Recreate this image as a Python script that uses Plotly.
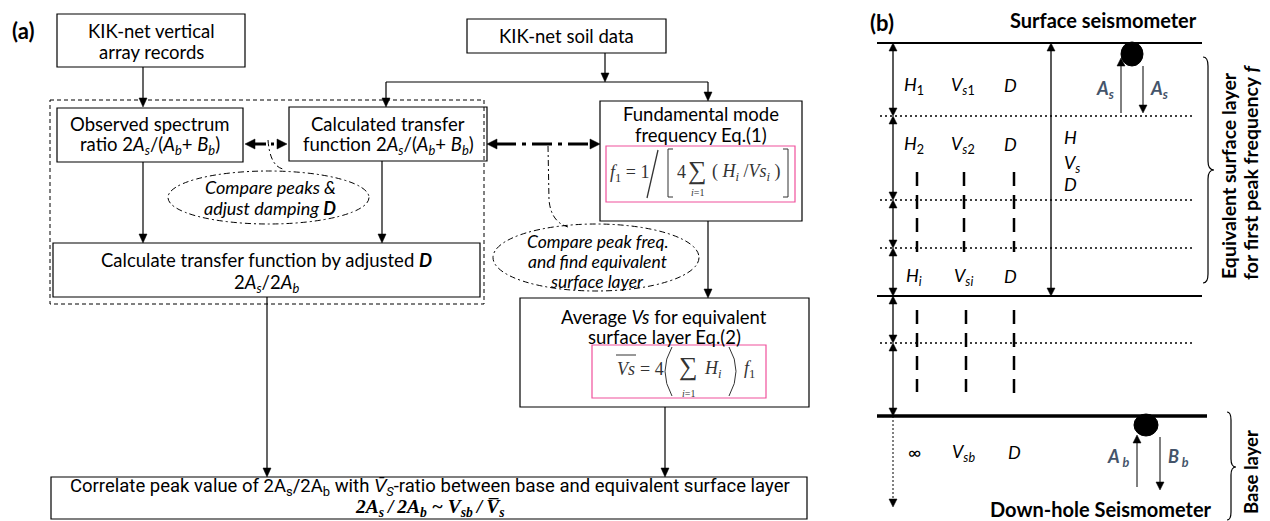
import plotly.graph_objects as go

# ---------------- text content ----------------
panel_tags = ["(a)", "(b)"]

records_lines = ["KIK-net vertical", "array records"]
soil_lines = ["KIK-net soil data"]
observed_lines = ["Observed spectrum",
                  "ratio 2<i>A</i><sub><i>s</i></sub>/(<i>A</i><sub><i>b</i></sub>+ <i>B</i><sub><i>b</i></sub>)"]
calculated_lines = ["Calculated transfer",
                    "function 2<i>A</i><sub><i>s</i></sub>/(<i>A</i><sub><i>b</i></sub>+ <i>B</i><sub><i>b</i></sub>)"]
fundamental_lines = ["Fundamental mode", "frequency Eq.(1)"]
damping_lines = ["<i>Compare peaks &</i>", "<i>adjust damping </i><b><i>D</i></b>"]
adjusted_lines = ["Calculate transfer function by adjusted <b><i>D</i></b>",
                  "2<i>A</i><sub><i>s</i></sub>/2<i>A</i><sub><i>b</i></sub>"]
peakfreq_lines = ["<i>Compare peak freq.</i>", "<i>and find equivalent</i>", "<i>surface layer</i>"]
average_lines = ["Average <i>Vs</i> for equivalent", "surface layer Eq.(2)"]
correlate_lines = ["Correlate peak value of 2A<sub>s</sub>/2A<sub>b</sub> with <i>V\u0304</i><sub><i>S</i></sub>-ratio between base and equivalent surface layer",
                   "<b><i>2A</i></b><sub><b><i>s</i></b></sub><b><i>\u2009/\u20092A</i></b><sub><b><i>b</i></b></sub><b><i> ~ V</i></b><sub><b><i>sb</i></b></sub><b><i>\u2009/\u2009V\u0305</i></b><sub><b><i>s</i></b></sub>"]

# layer table of panel (b)
layer_H = ["<i>H</i><sub>1</sub>", "<i>H</i><sub>2</sub>", "<i>H</i><sub><i>i</i></sub>", "\u221e"]
layer_Vs = ["<i>V</i><sub><i>s</i>1</sub>", "<i>V</i><sub><i>s</i>2</sub>",
            "<i>V</i><sub><i>si</i></sub>", "<i>V</i><sub><i>sb</i></sub>"]
layer_D = ["<i>D</i>", "<i>D</i>", "<i>D</i>", "<i>D</i>"]
equiv_labels = ["<i>H</i>", "<i>V</i><sub><i>s</i></sub>", "<i>D</i>"]
wave_labels = ["<b><i>A</i></b><sub><b><i>s</i></b></sub>", "<b><i>A</i></b><sub><b><i>s</i></b></sub>",
               "<b><i>A</i></b><sub><b><i> b</i></b></sub>", "<b><i>B</i></b><sub><b><i> b</i></b></sub>"]
station_labels = ["Surface seismometer", "Down-hole Seismometer"]
brace_labels = [["Equivalent surface layer", "for first peak frequency <i>f</i>"], ["Base layer"]]

# ---------------- styles ----------------
SANS = "Lato, 'Open Sans', sans-serif"
NARROW = "'Liberation Sans Narrow', 'Roboto', sans-serif"
SERIF = "'Liberation Serif', 'DejaVu Serif', serif"
INK = "#000000"
EQ_INK = "#333333"
PINK = "#f0509c"
SLATE = "#44546a"
BOX_FS = 18.5
NOTE_FS = 17.5

W, H = 1270, 521
shapes = []
annos = []


def text(x, y, s, size=17, family=SANS, color=INK, xanchor="center", angle=0):
    annos.append(dict(x=x, y=y, xref="x", yref="y", text=s, showarrow=False,
                      xanchor=xanchor, yanchor="middle", textangle=angle,
                      font=dict(size=size, family=family, color=color)))


def lines_at(x, ys, lines, **kw):
    for y, s in zip(ys, lines):
        text(x, y, s, **kw)


def rect(x0, y0, x1, y1, color=INK, width=1.2, dash=None):
    ln = dict(color=color, width=width)
    if dash:
        ln["dash"] = dash
    shapes.append(dict(type="rect", xref="x", yref="y", x0=x0, y0=y0, x1=x1, y1=y1,
                       line=ln, fillcolor="rgba(0,0,0,0)"))


def seg(x0, y0, x1, y1, color=INK, width=1.2, dash=None):
    ln = dict(color=color, width=width)
    if dash:
        ln["dash"] = dash
    shapes.append(dict(type="line", xref="x", yref="y", x0=x0, y0=y0, x1=x1, y1=y1, line=ln))


def path(d, color=INK, width=1.2, dash=None, fill=None):
    ln = dict(color=color, width=width)
    if dash:
        ln["dash"] = dash
    sh = dict(type="path", xref="x", yref="y", path=d, line=ln)
    if fill:
        sh["fillcolor"] = fill
    shapes.append(sh)


def head(x, y, d, L=9, w=4, color=INK):
    if d == "down":
        pts = [(x, y), (x - w, y - L), (x + w, y - L)]
    elif d == "up":
        pts = [(x, y), (x - w, y + L), (x + w, y + L)]
    elif d == "right":
        pts = [(x, y), (x - L, y - w), (x - L, y + w)]
    else:
        pts = [(x, y), (x + L, y - w), (x + L, y + w)]
    d_str = "M " + " L ".join(f"{px},{py}" for px, py in pts) + " Z"
    shapes.append(dict(type="path", xref="x", yref="y", path=d_str,
                       fillcolor=color, line=dict(color=color, width=0.5)))


def ellipse(x0, y0, x1, y1, dash="6px,3px,2px,3px"):
    shapes.append(dict(type="circle", xref="x", yref="y", x0=x0, y0=y0, x1=x1, y1=y1,
                       line=dict(color=INK, width=1, dash=dash), fillcolor="rgba(0,0,0,0)"))


# ================= panel (a): workflow =================
text(23, 30, "<b>" + panel_tags[0] + "</b>", size=22, family=SANS)

# boxes
rect(57, 14, 245, 67)
lines_at(151, [31, 52], records_lines, size=BOX_FS)
rect(467, 19, 666, 53)
lines_at(566, [36], soil_lines, size=BOX_FS)

rect(50, 100, 484, 304, width=1, dash="4px,3px")      # damping-loop group

rect(57, 108, 243, 162)
lines_at(150, [124, 145], observed_lines, size=BOX_FS)
rect(289, 107, 487, 161)
lines_at(388, [124, 145], calculated_lines, size=BOX_FS)

rect(600, 101, 802, 221)
lines_at(701, [114, 135], fundamental_lines, size=BOX_FS)
rect(606, 146, 795, 202, color=PINK, width=1.2)

rect(53, 243, 480, 297)
lines_at(266, [260, 283], adjusted_lines, size=BOX_FS)

rect(520, 298, 809, 407)
lines_at(664, [317, 337], average_lines, size=BOX_FS)
rect(592, 345, 766, 398, color=PINK, width=1.2)

rect(51, 477, 807, 519)
text(430, 487, correlate_lines[0], size=18.5, family=NARROW)
text(429, 508, correlate_lines[1], size=19.5, family=SERIF)

# Eq.(1): f1 = 1 / [ 4 sum (H_i / Vs_i) ]
text(629, 173, "<i>f</i><sub>1</sub> = 1", size=18, family=SERIF, color=EQ_INK)
seg(658, 150, 647, 198, color=EQ_INK, width=1.3)
path("M 673,149 L 668,149 L 668,197 L 673,197", color=EQ_INK, width=1)
path("M 783,149 L 788,149 L 788,197 L 783,197", color=EQ_INK, width=1)
text(681, 172, "4", size=18, family=SERIF, color=EQ_INK)
text(697, 170, "\u2211", size=26, family=SERIF, color=EQ_INK)
text(697, 192, "<i>i</i>=1", size=10, family=SERIF, color=EQ_INK)
text(746, 172, "( <i>H</i><sub><i>i</i></sub> /<i>Vs</i><sub><i>i</i></sub> )", size=18, family=SERIF, color=EQ_INK)

# Eq.(2): Vs_bar = 4 ( sum H_i ) f1
text(626, 369, "<i>Vs</i>", size=18, family=SERIF, color=EQ_INK)
seg(616, 355, 636, 355, color=EQ_INK, width=1)
text(652, 369, "= 4", size=18, family=SERIF, color=EQ_INK)
path("M 672,347 Q 658,371 672,396", color=EQ_INK, width=1)
path("M 729,347 Q 743,371 729,396", color=EQ_INK, width=1)
text(688, 366, "\u2211", size=26, family=SERIF, color=EQ_INK)
text(688, 393, "<i>i</i>=1", size=10, family=SERIF, color=EQ_INK)
text(713, 369, "<i>H</i><sub><i>i</i></sub>", size=18, family=SERIF, color=EQ_INK)
text(749, 369, "<i>f</i><sub>1</sub>", size=18, family=SERIF, color=EQ_INK)

# ellipses with their notes
ellipse(168, 171, 369, 224)
lines_at(270, [187, 208], damping_lines, size=18)
ellipse(493, 224, 699, 291)
lines_at(597, [241.5, 261.5, 281.5], peakfreq_lines, size=NOTE_FS)
path("M 268,140 Q 270,166 283,169", width=1, dash="6px,3px,2px,3px")
path("M 548,146 L 549,200 Q 551,222 568,227", width=1, dash="6px,3px,2px,3px")

# solid flow arrows
seg(143, 67, 143, 99); head(143, 107, "down")
seg(605, 53, 605, 73); head(605, 82, "down")
seg(386, 82, 708, 82)
seg(386, 82, 386, 98); head(386, 107, "down")
seg(708, 82, 708, 92); head(708, 101, "down")
seg(143, 162, 143, 234); head(143, 243, "down")
seg(382, 161, 382, 234); head(382, 243, "down")
seg(708, 221, 708, 289); head(708, 298, "down")
seg(267, 297, 267, 468); head(267, 477, "down")
seg(665, 407, 665, 468); head(665, 477, "down")

# bold dash-dot comparison arrows
seg(254, 144, 278, 144, width=3, dash="12px,5px,3px,5px")
head(245, 144, "left", L=10, w=5); head(287, 144, "right", L=10, w=5)
seg(496, 144, 591, 144, width=3, dash="20px,6px,4px,6px")
head(487, 144, "left", L=10, w=5); head(600, 144, "right", L=10, w=5)

# ================= panel (b): layered soil model =================
text(882, 22, "<b>" + panel_tags[1] + "</b>", size=22, family=SANS)
text(1103, 20, "<b>" + station_labels[0] + "</b>", size=20, family=SANS)
text(1101, 509, "<b>" + station_labels[1] + "</b>", size=20, family=SANS)

# boundaries: solid lines for free surface / base, dotted for interfaces
seg(877, 43, 1202, 43, width=2)
seg(877, 296, 1202, 296, width=2)
seg(877, 416, 1207, 416, width=3.5)
for yb in [116, 200, 248, 343]:
    seg(880, yb, 1193, yb, width=1.5, dash="2px,3px")

# thickness arrows along the left edge
bounds = [43, 116, 200, 248, 296, 343, 416]
for ya, yb in zip(bounds[:-1], bounds[1:]):
    seg(893, ya + 7, 893, yb - 7, width=1.3)
    head(893, ya, "up", L=8, w=4)
    head(893, yb, "down", L=8, w=4)
seg(893, 416, 893, 498, width=1, dash="2px,2px")
head(893, 507, "down", L=8, w=4)

# equivalent-layer total thickness arrow
seg(1051, 50, 1051, 289, width=1.3)
head(1051, 43, "up", L=8, w=4); head(1051, 296, "down", L=8, w=4)

# layer property labels
row_y = [85, 144, 276, 452]
col_x = [914, 963, 1010]
for i, y in enumerate(row_y):
    text(col_x[0], y, layer_H[i], size=18)
    text(col_x[1], y, layer_Vs[i], size=18)
    text(col_x[2] + (4 if i == 3 else 0), y, layer_D[i], size=18)
for y, s in zip([137, 163, 184], equiv_labels):
    text(1062, y, s, size=18, xanchor="left")

# "..." columns for skipped layers
for x in [917, 964, 1014]:
    seg(x, 172, x, 252, width=2.5, dash="14px,9px")
for x, y1 in zip([917, 966, 1014], [392, 392, 397]):
    seg(x, 310, x, y1, width=2.5, dash="14px,9px")

# seismometers and wave arrows
shapes.append(dict(type="circle", xref="x", yref="y", x0=1121, y0=42, x1=1143, y1=66,
                   fillcolor="black", line=dict(color="black", width=1)))
shapes.append(dict(type="circle", xref="x", yref="y", x0=1134, y0=414, x1=1158, y1=436,
                   fillcolor="black", line=dict(color="black", width=1)))
seg(1121, 113, 1121, 66, width=1); head(1121, 58, "up", L=8, w=4)
seg(1143, 66, 1143, 105, width=1); head(1143, 113, "down", L=8, w=4)
seg(1137, 487, 1137, 443, width=1); head(1137, 435, "up", L=8, w=4)
seg(1160, 437, 1160, 482, width=1); head(1160, 490, "down", L=8, w=4)
text(1105, 89, wave_labels[0], size=18, color=SLATE)
text(1159, 89, wave_labels[1], size=18, color=SLATE)
text(1118, 457, wave_labels[2], size=18, color=SLATE)
text(1178, 457, wave_labels[3], size=18, color=SLATE)

# braces on the right
path("M 1203,57 Q 1208,57 1208,66 L 1208,161 Q 1208,170 1214,170 "
     "Q 1208,170 1208,179 L 1208,274 Q 1208,283 1203,283", width=1.2)
path("M 1227,412 Q 1231,412 1231,420 L 1231,459 Q 1231,467 1236,467 "
     "Q 1231,467 1231,475 L 1231,512 Q 1231,520 1227,520", width=1.2)
text(1228, 176, "<b>" + brace_labels[0][0] + "</b>", size=19.5, angle=-90)
text(1250, 173, "<b>" + brace_labels[0][1].replace("<i>f</i>", "</b><b><i>f</i>") + "</b>", size=19.5, angle=-90)
text(1251, 472, "<b>" + brace_labels[1][0] + "</b>", size=18.5, angle=-90)

fig = go.Figure()
fig.update_layout(
    width=W, height=H,
    margin=dict(l=0, r=0, t=0, b=0),
    paper_bgcolor="white", plot_bgcolor="white",
    xaxis=dict(range=[0, W], visible=False, fixedrange=True),
    yaxis=dict(range=[H, 0], visible=False, fixedrange=True),
    shapes=shapes, annotations=annos, showlegend=False,
)
fig.write_html("out.html")
